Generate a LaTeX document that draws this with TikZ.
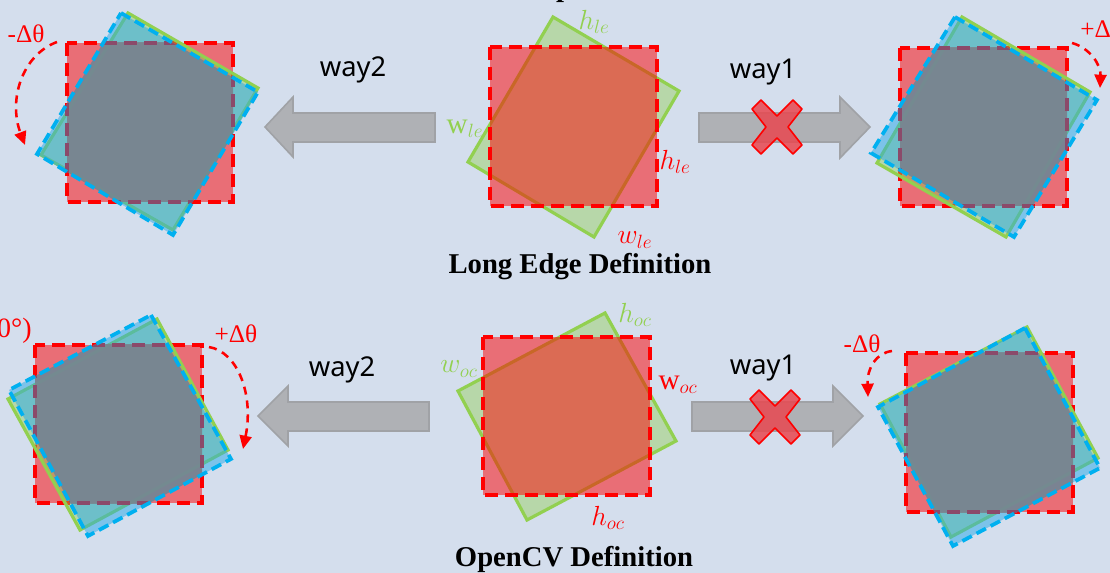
\documentclass[tikz,border=0pt]{standalone}
\usepackage{fontspec}
\setmainfont{Liberation Serif}
\newfontfamily\wayfont{Noto Sans}
\usetikzlibrary{arrows.meta}
\definecolor{bgc}{RGB}{212,222,237}
\definecolor{grn}{RGB}{146,208,80}
\definecolor{bluec}{RGB}{0,176,240}
\definecolor{bluef}{RGB}{37,169,233}
\definecolor{ovl}{RGB}{121,130,142}
\definecolor{purp}{RGB}{139,74,106}
\definecolor{arrg}{RGB}{175,177,181}
\definecolor{arrgd}{RGB}{160,162,166}
\definecolor{xfill}{RGB}{232,72,80}
\newcommand\sidefig[3]{%
  \fill[redfill] #1;
  \draw[reddash] #1;
  \filldraw[greenrect] #2;
  \fill[bluefill] #3;
  \begin{scope}\clip #1; \fill[overlay] #3; \end{scope}
  \begin{scope}\clip #3; \draw[purpdash] #1; \end{scope}
  \draw[bluedash] #3;
}
\newcommand\centerfig[2]{%
  \filldraw[greenrect] #2;
  \fill[redfill] #1;
  \draw[reddash] #1;
}
\begin{document}
\begin{tikzpicture}[x=0.75pt,y=-0.75pt,
  redfill/.style={fill=red, fill opacity=0.5},
  reddash/.style={draw=red, line width=2.6pt, dash pattern=on 10pt off 5pt},
  greenrect/.style={draw=grn, line width=2.4pt, fill=grn, fill opacity=0.43},
  bluefill/.style={fill=bluef, fill opacity=0.5},
  overlay/.style={fill=ovl, fill opacity=0.85},
  purpdash/.style={draw=purp, line width=2.6pt, dash pattern=on 10pt off 5pt},
  bluedash/.style={draw=bluec, line width=2.8pt, dash pattern=on 8pt off 4pt},
  rotarc/.style={draw=red, line width=1.9pt, dash pattern=on 6pt off 4.5pt, -{Triangle[length=10pt,width=9pt]}},
  blockarrow/.style={fill=arrg, draw=arrgd, line width=1.2pt, line join=miter},
  crossmark/.style={fill=xfill, fill opacity=0.85, draw=red, line width=1.2pt, line join=round},
  wayt/.style={font=\wayfont\fontsize{20.5pt}{22pt}\selectfont, inner sep=0pt},
  glbl/.style={text=grn, font=\fontsize{22pt}{24pt}\selectfont, inner sep=0pt},
  rlbl/.style={text=red, font=\fontsize{22pt}{24pt}\selectfont, inner sep=0pt},
  dtl/.style={text=red, font=\fontsize{19pt}{21pt}\selectfont, inner sep=0pt},
  ttl/.style={font=\bfseries\fontsize{21.5pt}{24pt}\selectfont, inner sep=0pt}
]
\fill[bgc] (0,0) rectangle (1110,573);
\useasboundingbox (0,0) rectangle (1110,573);

% partial title at top edge
\node[ttl, anchor=base] (tp) at (564,-3) {p};

% ---------- figures ----------
\sidefig{(67,43) rectangle (233,202)}
        {(128,13)--(258,88)--(173,230)--(41,155)--cycle}
        {(121,13)--(258,92)--(173,235)--(37,154)--cycle}
\centerfig{(490,47) rectangle (657,206)}
          {(553,17)--(679,91)--(594,237)--(468,162)--cycle}
\sidefig{(900,48) rectangle (1067,206)}
        {(962,17)--(1090,92)--(1006,237)--(877,163)--cycle}
        {(955,17)--(1097,100)--(1014,237)--(871,153)--cycle}
\sidefig{(35,345) rectangle (202,503)}
        {(157,319)--(228,450)--(80,530)--(8,399)--cycle}
        {(151,315)--(231,459)--(88,536)--(9,390)--cycle}
\centerfig{(483,337) rectangle (650,495)}
          {(605,313)--(676,441)--(527,520)--(458,391)--cycle}
\sidefig{(906,353) rectangle (1073,512)}
        {(1027,327)--(1098,458)--(951,537)--(880,404)--cycle}
        {(1025,328)--(1100,468)--(953,546)--(878,407)--cycle}

% ---------- block arrows ----------
\filldraw[blockarrow] (265,127) -- (293,97) -- (293,113) -- (435,113) -- (435,142) -- (293,142) -- (293,157) -- cycle;
\filldraw[blockarrow] (699,113) -- (840,113) -- (840,97) -- (870,127) -- (840,158) -- (840,142) -- (699,142) -- cycle;
\filldraw[blockarrow] (258,416) -- (288,386) -- (288,402) -- (429,402) -- (429,431) -- (288,431) -- (288,446) -- cycle;
\filldraw[blockarrow] (692,402) -- (833,402) -- (833,386) -- (863,416) -- (833,446) -- (833,431) -- (692,431) -- cycle;

% ---------- crosses ----------
\foreach \cx/\cy in {777/127, 775/417}{
  \filldraw[crossmark, shift={(\cx,\cy)}]
    (-25,-18) -- (-16,-27) -- (0,-11) -- (16,-27) -- (25,-18) -- (11,0)
    -- (25,18) -- (16,27) -- (0,11) -- (-16,27) -- (-25,18) -- (-11,0) -- cycle;
}

% ---------- way labels ----------
\node[wayt] (w2t) at (353,70) {way2};
\node[wayt] (w1t) at (763,72) {way1};
\node[wayt] (w2b) at (342,370) {way2};
\node[wayt] (w1b) at (763,368) {way1};

% ---------- edge labels ----------
\node[glbl] (hle) at (594,22) {$h_{le}$};
\node[glbl] (wle) at (465,129) {$\mathrm{w}_{le}$};
\node[rlbl] (hler) at (675,162) {$h_{le}$};
\node[rlbl] (wler) at (635,240) {$w_{le}$};
\node[glbl] (hoc) at (635,315) {$h_{oc}$};
\node[glbl] (woc) at (459,369) {$w_{oc}$};
\node[rlbl] (wocr) at (678,385) {$\mathrm{w}_{oc}$};
\node[rlbl] (hocr) at (608,518) {$h_{oc}$};

% ---------- rotation arcs ----------
\node[dtl] (d1) at (26,34) {-Δθ};
\coordinate (a1s) at (57,42);
\coordinate (a1e) at (25,145);
\draw[rotarc] (a1s) .. controls (22,55) and (8,100) .. (a1e);

\node[dtl, anchor=west] (d2) at (1080,29) {+Δθ};
\coordinate (a2s) at (1072,43);
\coordinate (a2e) at (1100,88);
\draw[rotarc] (a2s) .. controls (1090,48) and (1101,65) .. (a2e);

\node[dtl] (d3) at (236,334) {+Δθ};
\coordinate (a3s) at (209,347);
\coordinate (a3e) at (243,449);
\draw[rotarc] (a3s) .. controls (238,352) and (254,395) .. (a3e);

\node[dtl] (d4) at (862,344) {-Δθ};
\coordinate (a4s) at (892,351);
\coordinate (a4e) at (868,397);
\draw[rotarc] (a4s) .. controls (876,353) and (867,368) .. (a4e);

\node[dtl, anchor=east, font=\fontsize{21pt}{23pt}\selectfont] (deg) at (32,331) {0°)};

% ---------- titles ----------
\node[ttl] (t1) at (580,267) {Long Edge Definition};
\node[ttl] (t2) at (574,559) {OpenCV Definition};
\end{tikzpicture}
\end{document}
